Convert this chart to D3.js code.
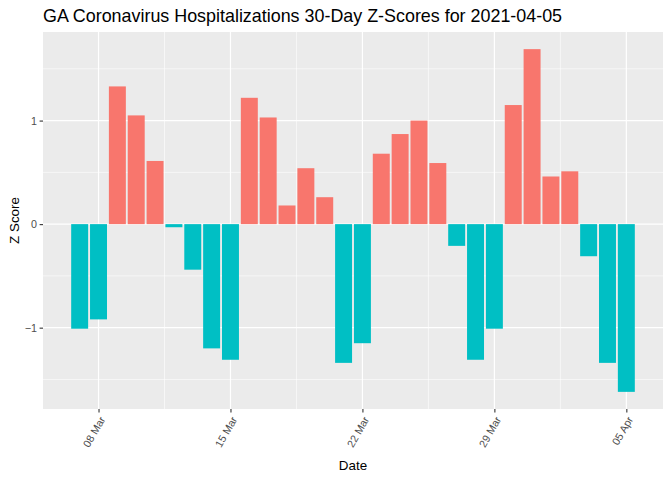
<!DOCTYPE html>
<html>
<head>
<meta charset="utf-8">
<script src="https://cdn.jsdelivr.net/npm/d3@7"></script>
<style>
  body { margin: 0; background: #fff; }
  text { font-family: "Liberation Sans", Arial, sans-serif; }
</style>
</head>
<body>
<div id="chart"></div>
<script>
var svgWidth = 672;
var svgHeight = 480;

var margin = { top: 32, right: 9, bottom: 71, left: 43 };
var width = svgWidth - margin.left - margin.right;
var height = svgHeight - margin.top - margin.bottom;

// data: one z score per day, 07 Mar to 05 Apr 2021
var startDate = "2021-03-07";
var zScores = [
  -1.01, -0.92, 1.33, 1.05, 0.61, -0.03, -0.44, -1.20, -1.31, 1.22,
  1.03, 0.18, 0.54, 0.26, -1.34, -1.15, 0.68, 0.87, 1.00, 0.59,
  -0.21, -1.31, -1.01, 1.15, 1.69, 0.46, 0.51, -0.31, -1.34, -1.62
];
var xTickDates = ["2021-03-08", "2021-03-15", "2021-03-22", "2021-03-29", "2021-04-05"];
var yTicks = [-1, 0, 1];
var yMinorTicks = [-1.5, -0.5, 0.5, 1.5];

var parseDate = d3.utcParse("%Y-%m-%d");
var DAY = 864e5;
var start = parseDate(startDate);
var data = zScores.map((v, i) => ({ date: new Date(start.getTime() + i * DAY), z: v }));
var tickDates = xTickDates.map(parseDate);

var svg = d3.select("#chart")
  .append("svg")
  .attr("width", svgWidth)
  .attr("height", svgHeight);

var chartGroup = svg.append("g")
  .attr("transform", `translate(${margin.left}, ${margin.top})`);

// x scale: bar extents plus ggplot's 5% expansion
var first = data[0].date.getTime() - 0.45 * DAY;
var last = data[data.length - 1].date.getTime() + 0.45 * DAY;
var padX = (last - first) * 0.05;
var xScale = d3.scaleUtc()
  .domain([new Date(first - padX), new Date(last + padX)])
  .range([0, width]);

var yMin = Math.min(0, d3.min(data, d => d.z));
var yMax = Math.max(0, d3.max(data, d => d.z));
var padY = (yMax - yMin) * 0.05;
var yScale = d3.scaleLinear()
  .domain([yMin - padY, yMax + padY])
  .range([height, 0]);

// panel
chartGroup.append("rect")
  .attr("width", width)
  .attr("height", height)
  .attr("fill", "#EBEBEB");

// minor grid
var xMinor = tickDates.slice(1).map((d, i) => new Date((d.getTime() + tickDates[i].getTime()) / 2));
chartGroup.selectAll(".ygrid-minor")
  .data(yMinorTicks)
  .enter()
  .append("line")
  .attr("x1", 0).attr("x2", width)
  .attr("y1", d => yScale(d)).attr("y2", d => yScale(d))
  .attr("stroke", "#fff").attr("stroke-width", 0.6);
chartGroup.selectAll(".xgrid-minor")
  .data(xMinor)
  .enter()
  .append("line")
  .attr("y1", 0).attr("y2", height)
  .attr("x1", d => xScale(d)).attr("x2", d => xScale(d))
  .attr("stroke", "#fff").attr("stroke-width", 0.6);

// major grid
chartGroup.selectAll(".ygrid")
  .data(yTicks)
  .enter()
  .append("line")
  .attr("x1", 0).attr("x2", width)
  .attr("y1", d => yScale(d)).attr("y2", d => yScale(d))
  .attr("stroke", "#fff").attr("stroke-width", 1.2);
chartGroup.selectAll(".xgrid")
  .data(tickDates)
  .enter()
  .append("line")
  .attr("y1", 0).attr("y2", height)
  .attr("x1", d => xScale(d)).attr("x2", d => xScale(d))
  .attr("stroke", "#fff").attr("stroke-width", 1.2);

// bars
var barW = xScale(new Date(start.getTime() + 0.9 * DAY)) - xScale(start);
chartGroup.selectAll(".bar")
  .data(data)
  .enter()
  .append("rect")
  .attr("x", d => xScale(d.date) - barW / 2)
  .attr("width", barW)
  .attr("y", d => yScale(Math.max(0, d.z)))
  .attr("height", d => Math.abs(yScale(d.z) - yScale(0)))
  .attr("fill", d => d.z > 0 ? "#F8766D" : "#00BFC4");

// axes
var bottomAxis = d3.axisBottom(xScale)
  .tickValues(tickDates)
  .tickFormat(d3.utcFormat("%d %b"))
  .tickSize(3.4)
  .tickPadding(2.7);
var leftAxis = d3.axisLeft(yScale)
  .tickValues(yTicks)
  .tickFormat(d3.format("d"))
  .tickSize(3.4)
  .tickPadding(2.7);

var xAxis = chartGroup.append("g")
  .attr("transform", `translate(0, ${height})`)
  .call(bottomAxis);
var yAxis = chartGroup.append("g")
  .call(leftAxis);

[xAxis, yAxis].forEach(ax => {
  ax.select(".domain").remove();
  ax.selectAll(".tick line").attr("stroke", "#333333").attr("stroke-width", 1.1);
  ax.selectAll(".tick text")
    .attr("fill", "#4D4D4D")
    .style("font-size", "10.7px")
    .style("font-family", "'Liberation Sans', Arial, sans-serif");
});

yAxis.selectAll(".tick text").attr("x", -6.1).attr("dy", "0.35em");

xAxis.selectAll(".tick text")
  .attr("text-anchor", "end")
  .attr("y", 0)
  .attr("dy", "0.72em")
  .attr("transform", "translate(0, 6.5) rotate(-60)");

// titles
svg.append("text")
  .attr("x", margin.left)
  .attr("y", 22)
  .attr("font-size", "17.9px")
  .attr("fill", "#000")
  .text("GA Coronavirus Hospitalizations 30-Day Z-Scores for 2021-04-05");

svg.append("text")
  .attr("x", margin.left + width / 2)
  .attr("y", 470)
  .attr("text-anchor", "middle")
  .attr("font-size", "13.4px")
  .attr("fill", "#000")
  .text("Date");

svg.append("text")
  .attr("transform", `translate(19, ${margin.top + height / 2}) rotate(-90)`)
  .attr("text-anchor", "middle")
  .attr("font-size", "13.4px")
  .attr("fill", "#000")
  .text("Z Score");
</script>
</body>
</html>
